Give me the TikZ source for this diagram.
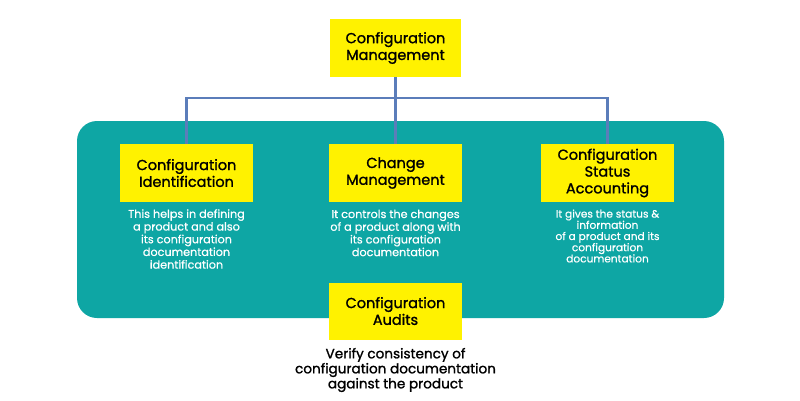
\documentclass[tikz,border=0pt]{standalone}
\usepackage{fontspec}
\setmainfont{Poppins}
\newfontfamily\lblfont[FakeBold=1.3]{Poppins}
\newfontfamily\descfont[FakeBold=0.6]{Poppins}
\definecolor{boxyellow}{RGB}{255,242,0}
\definecolor{panelteal}{RGB}{14,166,164}
\definecolor{connblue}{RGB}{91,125,186}
\pgfdeclarelayer{panel}
\pgfdeclarelayer{links}
\pgfsetlayers{panel,links,main}
\tikzset{
  ybox/.style={fill=boxyellow, draw=none, minimum width=133pt, minimum height=58pt, align=center, inner sep=0pt,
    font=\lblfont\fontsize{14.5}{16.8}\selectfont, text=black},
  desc/.style={align=center, text=white, inner sep=0pt, font=\descfont\fontsize{11.2}{12.7}\selectfont},
  conn/.style={draw=connblue, line width=2.4pt}
}
\begin{document}
\begin{tikzpicture}[x=1pt,y=-1pt]
\useasboundingbox (0,0) rectangle (800,400);
\begin{pgfonlayer}{panel}
\fill[white] (0,0) rectangle (800,400);
\fill[panelteal, rounded corners=20pt] (77,121) rectangle (724,318);
\end{pgfonlayer}
\node[ybox, minimum width=131pt] (top) at (395.5,48) {Configuration\\Management};
\node[ybox] (b1) at (186.5,173) {Configuration\\Identification};
\node[ybox] (b2) at (395.5,173) {Change\\Management};
\node[ybox] (b3) at (607.5,173) {Configuration\\Status\\Accounting};
\node[ybox, minimum height=57pt] (b4) at (395.5,311) {Configuration\\Audits};
\coordinate (j) at (395.5,98);
\begin{pgfonlayer}{links}
\draw[conn] (top.south) -- (j);
\draw[conn] (b1.north) |- (j) -| (b3.north);
\draw[conn] (j) -- (b2.north);
\end{pgfonlayer}
\node[desc] (d1) at (186.5,239) {This helps in defining\\a product and also\\its configuration\\documentation\\identification};
\node[desc] (d2) at (395.5,233) {It controls the changes\\of a product along with\\its configuration\\documentation};
\node[desc, font=\descfont\fontsize{10.6}{11.2}\selectfont] (d3) at (607.5,236) {It gives the status \&\\information\\of a product and its\\configuration\\documentation};
\node[align=center, inner sep=0pt, text=black, font=\lblfont\fontsize{13.6}{15}\selectfont] (d4) at (395.5,370) {Verify consistency of\\configuration documentation\\against the product};
\end{tikzpicture}
\end{document}
